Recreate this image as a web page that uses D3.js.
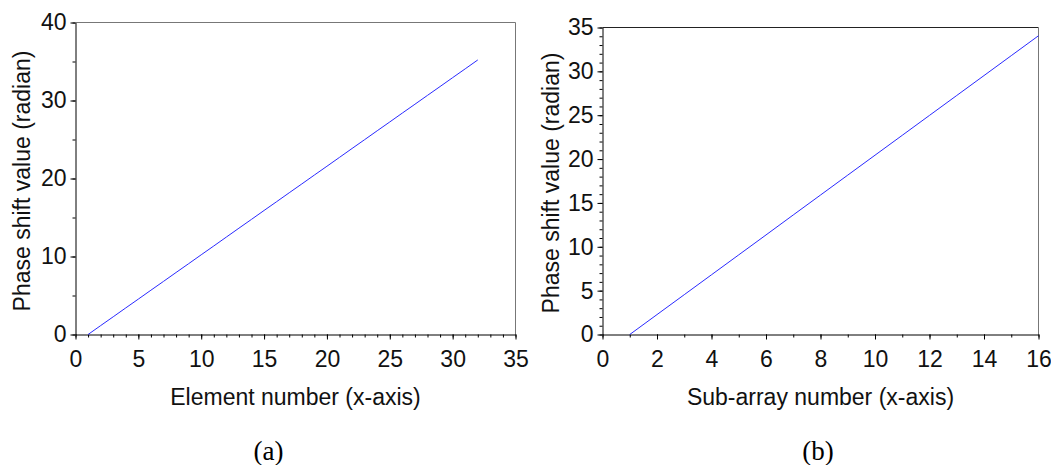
<!DOCTYPE html>
<html><head><meta charset="utf-8">
<script src="https://cdn.jsdelivr.net/npm/d3@7"></script>
<style>
body{margin:0;background:#fff}
svg{display:block}
</style>
</head><body>
<svg id="c" width="1051" height="465"></svg>
<script>
// ---------- data ----------
const elementNumbers = [1,2,3,4,5,6,7,8,9,10,11,12,13,14,15,16,17,18,19,20,21,22,23,24,25,26,27,28,29,30,31,32];
const elementPhase = [0,1.14,2.27,3.41,4.54,5.68,6.81,7.95,9.08,10.22,11.35,12.49,13.63,14.76,15.90,17.03,
                      18.17,19.30,20.44,21.57,22.71,23.85,24.98,26.12,27.25,28.39,29.52,30.66,31.79,32.93,34.06,35.20];
const subarrayNumbers = [1,2,3,4,5,6,7,8,9,10,11,12,13,14,15,16];
const subarrayPhase = [0,2.27,4.54,6.81,9.08,11.35,13.63,15.90,18.17,20.44,22.71,24.98,27.25,29.52,31.79,34.06];

const xTicksA = [0,5,10,15,20,25,30,35];
const yTicksA = [0,10,20,30,40];
const xTicksB = [0,2,4,6,8,10,12,14,16];
const yTicksB = [0,5,10,15,20,25,30,35];

const xTitleA = "Element number (x-axis)";
const xTitleB = "Sub-array number (x-axis)";
const yTitle = "Phase shift value (radian)";
const captionA = "(a)";
const captionB = "(b)";

// ---------- drawing ----------
const svg = d3.select("#c");
const SANS = '"Liberation Sans", Arial, sans-serif';
const SERIF = '"Liberation Serif", "Times New Roman", serif';

function panel(o) {
  const x = d3.scaleLinear().domain([0, o.xMax]).range([o.L, o.R]);
  const y = d3.scaleLinear().domain([0, o.yMax]).range([o.B, o.T]);
  const g = svg.append("g");

  // frame (top and right)
  g.append("line").attr("x1", o.L).attr("x2", o.R).attr("y1", o.T).attr("y2", o.T)
    .attr("stroke", o.topColor).attr("stroke-width", 1);
  g.append("line").attr("x1", o.R).attr("x2", o.R).attr("y1", o.T).attr("y2", o.B)
    .attr("stroke", o.rightColor).attr("stroke-width", 1);

  // minor ticks
  const xMinor = d3.range(0, o.xMax + 1e-9, o.xMinorStep);
  const yMinor = d3.range(0, o.yMax + 1e-9, o.yMinorStep);
  const gxm = g.append("g").attr("transform", `translate(0,${o.B})`)
    .call(d3.axisBottom(x).tickValues(xMinor).tickSize(3).tickFormat(""));
  gxm.select(".domain").remove();
  const gym = g.append("g").attr("transform", `translate(${o.L},0)`)
    .call(d3.axisLeft(y).tickValues(yMinor).tickSize(3).tickFormat(""));
  gym.select(".domain").remove();

  // major axes
  const gx = g.append("g").attr("transform", `translate(0,${o.B})`)
    .call(d3.axisBottom(x).tickValues(o.xTicks).tickSize(5).tickSizeOuter(0).tickPadding(11).tickFormat(d3.format("d")));
  const gy = g.append("g").attr("transform", `translate(${o.L},0)`)
    .call(d3.axisLeft(y).tickValues(o.yTicks).tickSize(5).tickSizeOuter(0).tickPadding(4).tickFormat(d3.format("d")));
  [gx, gy, gxm, gym].forEach(a => {
    a.attr("font-family", SANS).attr("font-size", 23);
    a.selectAll("line").attr("stroke", "#000");
    a.selectAll(".domain").attr("stroke", "#000");
    a.selectAll("text").attr("fill", "#111");
  });

  // data line
  const pts = o.xs.map((v, i) => [v, o.ys[i]]);
  g.append("path").datum(pts)
    .attr("fill", "none").attr("stroke", "#2a2aff").attr("stroke-width", 1)
    .attr("d", d3.line().x(d => x(d[0])).y(d => y(d[1])));

  // titles
  g.append("text").attr("x", (o.L + o.R) / 2).attr("y", o.xTitleY)
    .attr("text-anchor", "middle").attr("font-family", SANS).attr("font-size", 23).attr("fill", "#111")
    .text(o.xTitle);
  g.append("text").attr("transform", `translate(${o.yTitleX},${o.yTitleCY}) rotate(-90)`)
    .attr("text-anchor", "middle").attr("font-family", SANS).attr("font-size", 23).attr("fill", "#111")
    .text(o.yTitle);
  g.append("text").attr("x", o.capX).attr("y", 460)
    .attr("text-anchor", "middle").attr("font-family", SERIF).attr("font-size", 27).attr("fill", "#000")
    .text(o.caption);
}

panel({
  L: 75.5, R: 515.5, T: 22.5, B: 334.5,
  xMax: 35, yMax: 40, xMinorStep: 1, yMinorStep: 5,
  xTicks: xTicksA, yTicks: yTicksA,
  xs: elementNumbers, ys: elementPhase,
  xTitle: xTitleA, yTitle: yTitle, caption: captionA,
  xTitleY: 405, yTitleX: 30, yTitleCY: 181, capX: 268.5,
  topColor: "#777", rightColor: "#777"
});

panel({
  L: 602.5, R: 1038.5, T: 27.5, B: 334.5,
  xMax: 16, yMax: 35, xMinorStep: 1, yMinorStep: 1,
  xTicks: xTicksB, yTicks: yTicksB,
  xs: subarrayNumbers, ys: subarrayPhase,
  xTitle: xTitleB, yTitle: yTitle, caption: captionB,
  xTitleY: 405, yTitleX: 558.5, yTitleCY: 183, capX: 818,
  topColor: "#222", rightColor: "#777"
});
</script>
</body></html>
